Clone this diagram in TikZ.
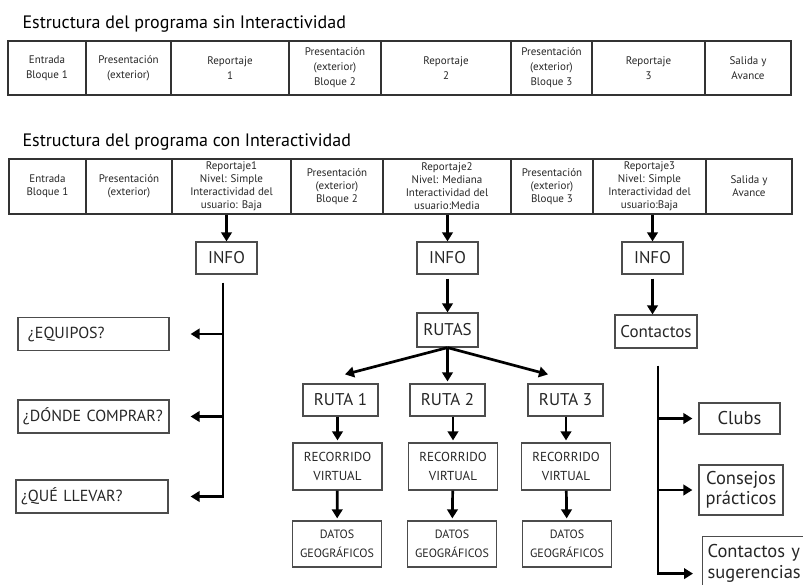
\documentclass[tikz,border=0pt]{standalone}
\usepackage{fontspec}
\setmainfont{PT Sans}
\usetikzlibrary{arrows.meta,positioning}

\begin{document}
\begin{tikzpicture}[x=1pt,y=-1pt,
    cell/.style={draw=black!80,line width=1.6pt,inner sep=0pt,align=center,text=black!85},
    box/.style={draw=black!70,line width=1.2pt,inner sep=2pt,align=center,text=black!85},
    lbox/.style={box,align=left,inner xsep=5pt,minimum height=33,font=\fontsize{16}{18}\selectfont},
    arr/.style={-{Triangle[length=9pt,width=10.5pt]},line width=2.7pt}]
  \useasboundingbox (0,0) rectangle (803,584);
  \clip (0,0) rectangle (803,584);
  \node[anchor=base west,font=\fontsize{18}{21}\selectfont] (t1) at (19,28) {Estructura del programa sin Interactividad};
  \foreach \l/\r/\txt [count=\i] in {8/86/{Entrada\\Bloque 1},86/171/{Presentación\\(exterior)},171/289/{Reportaje\\1},289/381/{Presentación\\(exterior)\\Bloque 2},381/511/{Reportaje\\2},511/592/{Presentación\\(exterior)\\Bloque 3},592/705/{Reportaje\\3},705/791/{Salida y\\Avance}}
    \node[cell,minimum width=\r-\l,minimum height=54,font=\fontsize{11}{15}\selectfont] (s\i) at ({(\l+\r)/2},68) {\txt};

  \node[anchor=base west,font=\fontsize{18}{21}\selectfont] (t2) at (19,146) {Estructura del programa con Interactividad};
  \foreach \l/\r/\txt [count=\i] in {9/86/{Entrada\\Bloque 1},86/172/{Presentación\\(exterior)},172/291/{Reportaje1\\Nivel: Simple\\Interactividad del\\usuario: Baja},291/383/{Presentación\\(exterior)\\Bloque 2},383/511/{Reportaje2\\Nivel: Mediana\\Interactividad del\\usuario:Media},511/593/{Presentación\\(exterior)\\Bloque 3},593/706/{Reportaje3\\Nivel: Simple\\Interactividad del\\usuario:Baja},706/792/{Salida y\\Avance}}
    \node[cell,minimum width=\r-\l,minimum height=55,font=\fontsize{11}{13}\selectfont] (c\i) at ({(\l+\r)/2},186.5) {\txt};

  \node[box,minimum width=61,minimum height=32,font=\fontsize{17}{20}\selectfont] (i1) at (226.5,258) {INFO};
  \node[box,minimum width=61,minimum height=32,font=\fontsize{17}{20}\selectfont] (i2) at (447.5,258) {INFO};
  \node[box,minimum width=61,minimum height=32,font=\fontsize{17}{20}\selectfont] (i3) at (652.5,258) {INFO};
  \node[box,minimum width=61,minimum height=34,font=\fontsize{17}{20}\selectfont] (rutas) at (447.5,330) {RUTAS};
  \node[box,minimum width=82,minimum height=33,font=\fontsize{17}{20}\selectfont] (cont) at (656,331.5) {Contactos};

  \foreach \x/\n in {340.5/1,447.5/2,565.5/3}
    \node[box,minimum width=75,minimum height=32,font=\fontsize{17}{20}\selectfont] (r\n) at (\x,400) {RUTA \n};
  \foreach \x/\n in {337.5/1,453/2,566/3}
    \node[box,minimum width=89,minimum height=47,font=\fontsize{13}{19}\selectfont] (rv\n) at (\x,466.5) {RECORRIDO\\VIRTUAL};
  \foreach \x/\n in {337/1,452/2,567/3}
    \node[box,minimum width=89,minimum height=46,font=\fontsize{12}{19}\selectfont] (d\n) at (\x,544) {DATOS\\GEOGRÁFICOS};

  \node[lbox,text width=141] (eq) at (93.5,334) {\hspace*{5pt}¿EQUIPOS?};
  \node[lbox,text width=141] (dc) at (93.5,416.5) {¿DÓNDE COMPRAR?};
  \node[lbox,text width=142] (ql) at (92,496.5) {¿QUÉ LLEVAR?};

  \node[box,minimum width=81,minimum height=31,font=\fontsize{18.5}{20}\selectfont] (clubs) at (739.5,418.5) {Clubs};
  \node[box,minimum width=84,minimum height=50,font=\fontsize{18.5}{20}\selectfont] (cons) at (741,490) {Consejos\\prácticos};
  \node[box,anchor=north west,align=left,text width=108,inner xsep=5pt,minimum height=53,font=\fontsize{18.5}{21}\selectfont] (cs) at (702,536) {Contactos y\\sugerencias};

  \draw[arr] (c3.south -| i1) -- (i1);
  \draw[arr] (c5.south -| i2) -- (i2);
  \draw[arr] (c7.south -| i3) -- (i3);
  \draw[arr,shorten <=4pt] (i2) -- (rutas);
  \draw[arr,shorten <=4pt] (i3.south) -- (i3.south |- cont.north);
  \draw[arr] (rutas.south) -- ([xshift=4.5pt,yshift=9pt]r1.north);
  \draw[arr] (rutas.south) -- ([yshift=2pt]r2.north);
  \draw[arr] (rutas.south) -- ([xshift=-17.5pt,yshift=9pt]r3.north);
  \foreach \n in {1,2,3}{
    \draw[arr,shorten >=2pt] (r\n.south -| rv\n) -- (rv\n);
    \draw[arr,shorten >=2pt] (rv\n) -- (d\n);
  }

  \coordinate (lt) at ([xshift=-3.5pt,yshift=-8pt]i1.south);
  \draw[arr] (lt) |- ([xshift=22pt]ql.east);
  \draw[arr] (lt |- eq.east) -- ([xshift=21pt]eq.east);
  \draw[arr] (lt |- dc.east) -- ([xshift=21pt]dc.east);

  \coordinate (rt) at ([xshift=2pt,yshift=-17pt]cont.south);
  \draw[arr] (rt) |- ([xshift=-9pt,yshift=-10.5pt]cs.west);
  \draw[arr] (rt |- clubs.west) -- ([xshift=-6pt]clubs.west);
  \draw[arr] (rt |- cons.west) -- ([xshift=-6pt]cons.west);
\end{tikzpicture}
\end{document}
